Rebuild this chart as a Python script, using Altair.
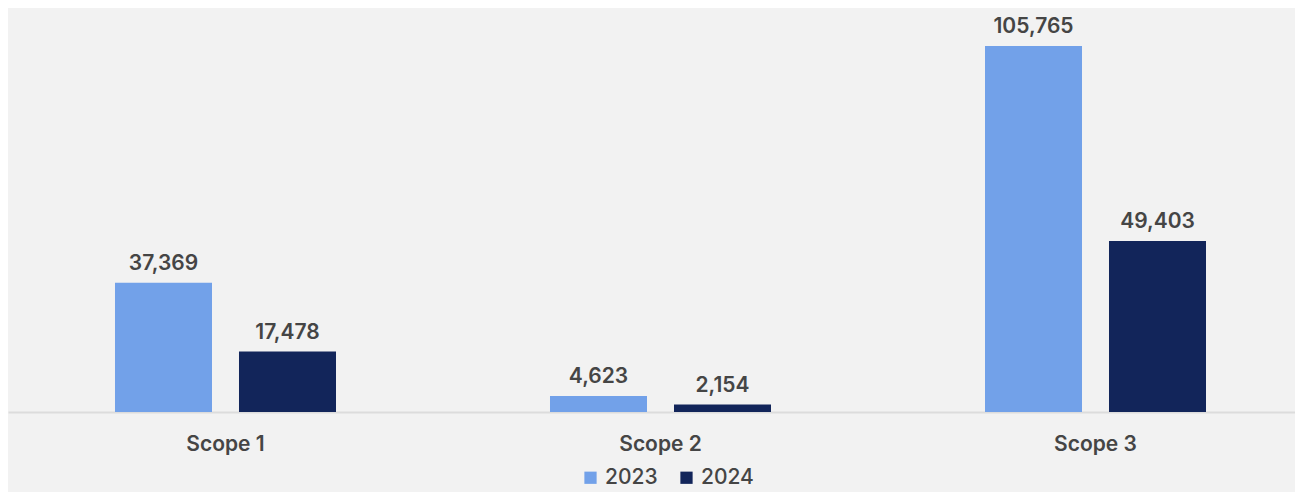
import altair as alt
import pandas as pd

scopes = ["Scope 1", "Scope 2", "Scope 3"]
years = ["2023", "2024"]
values_2023 = [37369, 4623, 105765]
values_2024 = [17478, 2154, 49403]
colors = ["#72a1e9", "#12255a"]

rows = []
for s, a, b in zip(scopes, values_2023, values_2024):
    rows.append({"scope": s, "year": years[0], "value": a})
    rows.append({"scope": s, "year": years[1], "value": b})
df = pd.DataFrame(rows)

FONT = "Inter"

x = alt.X("scope:N", sort=scopes, title=None,
          scale=alt.Scale(paddingInner=0.3, paddingOuter=0.1293, align=0.58),
          axis=alt.Axis(labelAngle=0, labelFontSize=21, labelFont=FONT, labelFontWeight=600,
                        labelColor="#454545", labelPadding=21, ticks=False,
                        domainColor="#dcdcdc", domainWidth=2))
xo = alt.XOffset("year:N", sort=years,
                 scale=alt.Scale(paddingInner=0.2177, paddingOuter=0.3367))
y = alt.Y("value:Q", title=None, axis=None,
          scale=alt.Scale(domain=[0, 116745], nice=False, zero=True))

bars = alt.Chart(df).mark_bar().encode(
    x=x, xOffset=xo, y=y,
    color=alt.Color("year:N", sort=years,
                    scale=alt.Scale(domain=years, range=colors),
                    legend=alt.Legend(title=None, orient="none", direction="horizontal",
                                      legendX=572, legendY=459,
                                      symbolType="square", symbolSize=150,
                                      symbolStrokeWidth=0,
                                      labelFontSize=21, labelFont=FONT, labelFontWeight=500,
                                      labelColor="#454545", labelOffset=4,
                                      columnPadding=18)),
)

labels = alt.Chart(df).mark_text(
    baseline="alphabetic", dy=-13, fontSize=21, font=FONT, fontWeight=600, color="#454545"
).encode(
    x=alt.X("scope:N", sort=scopes), xOffset=alt.XOffset("year:N", sort=years), y=y,
    text=alt.Text("value:Q", format=",")
)

chart = alt.layer(bars, labels).properties(
    width=1287, height=404,
    background="#f2f2f2",
    padding={"left": 0, "top": 0, "right": 0, "bottom": 80},
    autosize=alt.AutoSizeParams(type="none"),
).configure_view(stroke=None)

chart.save("out.html", embed_options={"renderer": "svg", "actions": False})
